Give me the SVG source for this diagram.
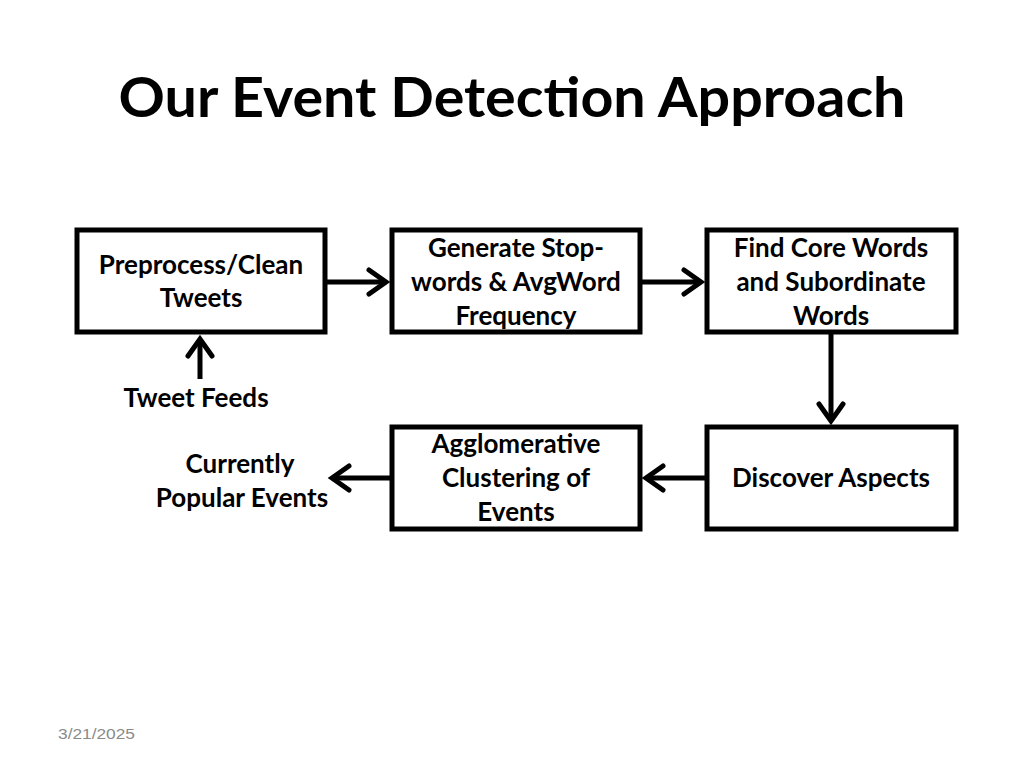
<svg xmlns="http://www.w3.org/2000/svg" width="1024" height="768" viewBox="0 0 1024 768">
<style>
.box{fill:#fff;stroke:#000;stroke-width:5}
.t{font-family:Lato,"Open Sans","Liberation Sans",sans-serif;font-weight:bold;font-size:26px;fill:#000;text-anchor:middle}
.c{fill:none;stroke:#000;stroke-width:5}
</style>
<defs>
<marker id="ah" markerUnits="userSpaceOnUse" viewBox="-24 -16 28 32" refX="0" refY="0" markerWidth="28" markerHeight="32" orient="auto" overflow="visible">
<path d="M-17,-12 L0,0 L-17,12" fill="none" stroke="#000" stroke-width="5" stroke-linecap="round" stroke-linejoin="miter"/>
</marker>
</defs>
<rect width="1024" height="768" fill="#fff"/>
<text x="512" y="117" textLength="787" lengthAdjust="spacingAndGlyphs" style="font-family:Lato,'Open Sans','Liberation Sans',sans-serif;font-weight:bold;font-size:55px;text-anchor:middle">Our Event Detection Approach</text>
<g id="n1"><rect class="box" x="77" y="230" width="248" height="102"/><text class="t" x="201" y="274">Preprocess/Clean</text><text class="t" x="201" y="307">Tweets</text></g>
<g id="n2"><rect class="box" x="392" y="230" width="248" height="102"/><text class="t" x="516" y="257">Generate Stop-</text><text class="t" x="516" y="291">words &amp; AvgWord</text><text class="t" x="516" y="325">Frequency</text></g>
<g id="n3"><rect class="box" x="707" y="230" width="249" height="102"/><text class="t" x="831" y="257">Find Core Words</text><text class="t" x="831" y="291">and Subordinate</text><text class="t" x="831" y="325">Words</text></g>
<g id="n4"><rect class="box" x="392" y="427" width="248" height="102"/><text class="t" x="516" y="453">Agglomerative</text><text class="t" x="516" y="487">Clustering of</text><text class="t" x="516" y="521">Events</text></g>
<g id="n5"><rect class="box" x="707" y="427" width="249" height="102"/><text class="t" x="831" y="487">Discover Aspects</text></g>
<g id="n6"><text class="t" x="196" y="407">Tweet Feeds</text></g>
<g id="n7"><text class="t" x="240" y="473">Currently</text><text class="t" x="242" y="507">Popular Events</text></g>
<g id="connectors">
<line class="c" x1="325" y1="282" x2="386" y2="282" marker-end="url(#ah)"/>
<line class="c" x1="640" y1="282" x2="701" y2="282" marker-end="url(#ah)"/>
<line class="c" x1="831" y1="332" x2="831" y2="421" marker-end="url(#ah)"/>
<line class="c" x1="707" y1="478" x2="646" y2="478" marker-end="url(#ah)"/>
<line class="c" x1="392" y1="478" x2="332" y2="478" marker-end="url(#ah)"/>
<line class="c" x1="200" y1="379" x2="200" y2="339" marker-end="url(#ah)"/>
</g>
<text x="58" y="739" textLength="77" lengthAdjust="spacingAndGlyphs" style="font-family:'Liberation Sans',sans-serif;font-size:15px;fill:#8a8a8a">3/21/2025</text>
</svg>
